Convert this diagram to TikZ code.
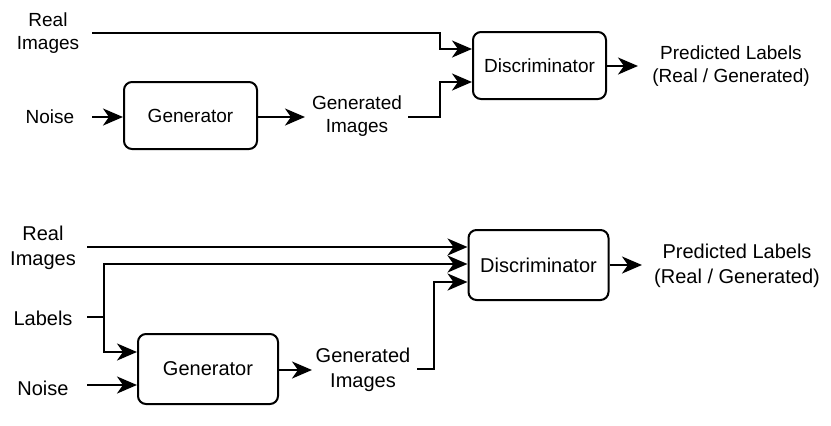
\documentclass[tikz,border=0pt]{standalone}
\usepackage{fontspec}
\setmainfont{Liberation Sans}
\usetikzlibrary{arrows.meta}
\begin{document}
\begin{tikzpicture}[x=1pt,y=-1pt,
 boxa/.style={draw, line width=2pt, rounded corners=8pt, minimum width=133pt, minimum height=67pt, inner sep=0pt, font=\fontsize{19}{22.5}\selectfont},
 boxb/.style={draw, line width=2pt, rounded corners=8pt, minimum width=140pt, minimum height=70pt, inner sep=0pt, font=\fontsize{20}{25}\selectfont},
 lbla/.style={align=center, inner sep=0pt, font=\fontsize{19}{22.5}\selectfont},
 lblb/.style={align=center, inner sep=0pt, font=\fontsize{20}{25}\selectfont},
 arr/.style={line width=2.6pt, -{Stealth[length=20pt,width=17pt,inset=6pt]}},
 ln/.style={line width=2.6pt}]
\useasboundingbox (0,0) rectangle (831,426);
% ---------- top ----------
\node[boxa] (disc1) at (539.5,65.5) {Discriminator};
\node[boxa] (gen1) at (190.5,115.5) {Generator};
\node[lbla] (real1) at (48,33) {Real\\Images};
\node[lbla] (noise1) at (50,117) {Noise};
\node[lbla] (gimg1) at (357,116) {Generated\\Images};
\node[lbla] (pred1) at (731,66) {Predicted Labels\\(Real / Generated)};
\coordinate (r1s) at (92,33);
\coordinate (k1) at (440,49);
\draw[arr] (r1s) -| (k1) -- (k1 -| disc1.west);
\coordinate (g1s) at (408,117);
\coordinate (k2) at (440,82);
\draw[arr] (g1s) -| (k2) -- (k2 -| disc1.west);
\coordinate (n1s) at (92,117);
\draw[arr] (n1s) -- (n1s -| gen1.west);
\coordinate (g1o) at (305,117);
\draw[arr] (g1o -| gen1.east) -- (g1o);
\coordinate (d1o) at (638,66);
\draw[arr] (d1o -| disc1.east) -- (d1o);
% ---------- bottom ----------
\node[boxb] (disc2) at (538.5,265) {Discriminator};
\node[boxb] (gen2) at (208,369) {Generator};
\node[lblb] (real2) at (43,248) {Real\\Images};
\node[lblb] (lab2) at (43,318) {Labels};
\node[lblb] (noise2) at (43,388) {Noise};
\node[lblb] (gimg2) at (363,370) {Generated\\Images};
\node[lblb] (pred2) at (737,266) {Predicted Labels\\(Real / Generated)};
\coordinate (r2s) at (87,247);
\draw[arr] (r2s) -- (r2s -| disc2.west);
\coordinate (l2s) at (87,317);
\coordinate (lj) at (104,317);
\coordinate (l2d) at (470,264);
\coordinate (l2g) at (140,352);
\draw[ln] (l2s) -- (lj);
\draw[arr] (lj) |- (l2d -| disc2.west);
\draw[arr] (lj) |- (l2g -| gen2.west);
\coordinate (n2s) at (87,385);
\draw[arr] (n2s) -- (n2s -| gen2.west);
\coordinate (g2o) at (312,370);
\draw[arr] (g2o -| gen2.east) -- (g2o);
\coordinate (g2s) at (417,369);
\coordinate (k3) at (434,282);
\draw[arr] (g2s) -| (k3) -- (k3 -| disc2.west);
\coordinate (d2o) at (642,265);
\draw[arr] (d2o -| disc2.east) -- (d2o);
\end{tikzpicture}
\end{document}
